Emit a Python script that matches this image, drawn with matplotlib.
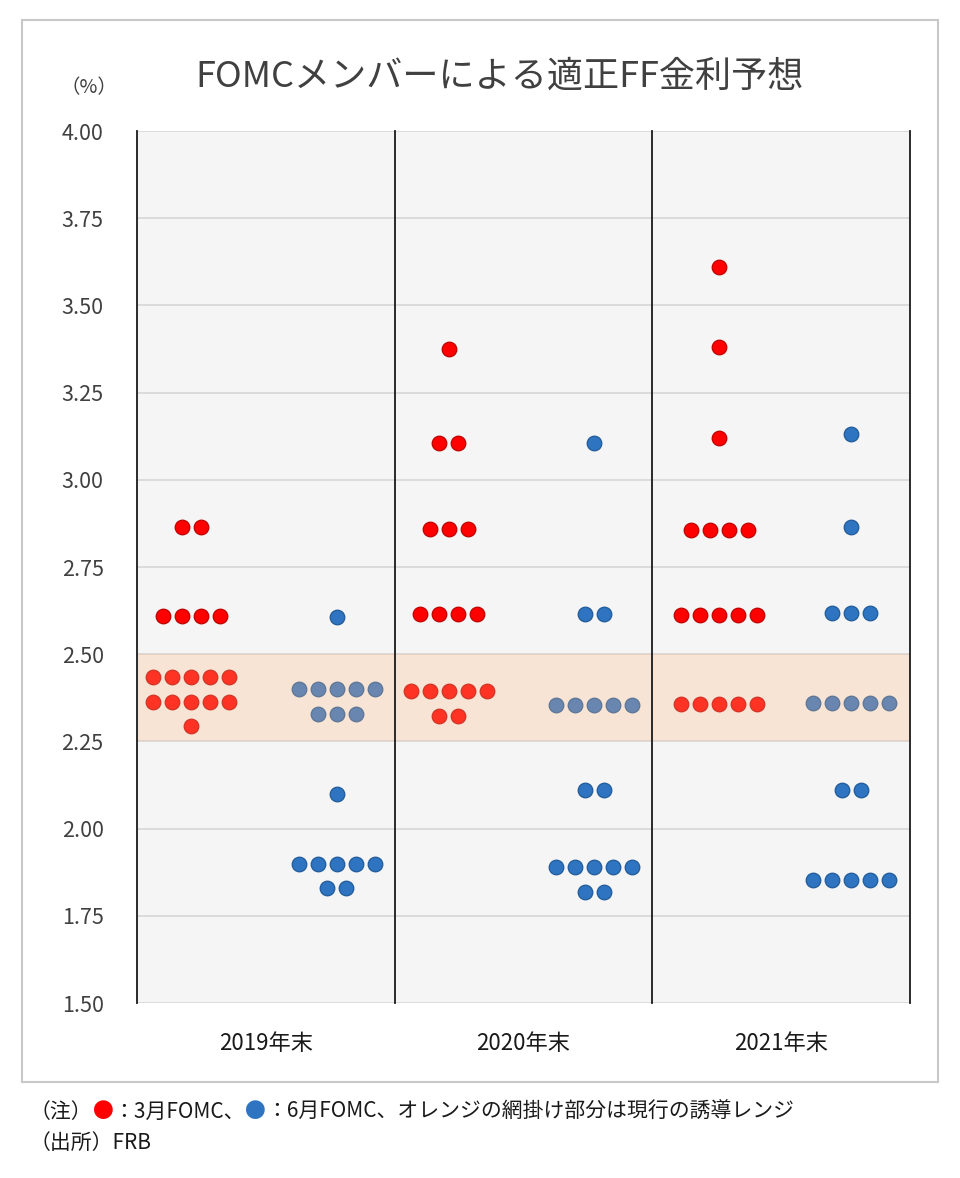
import matplotlib
matplotlib.use("Agg")
import matplotlib.pyplot as plt
from matplotlib.patches import Rectangle
from matplotlib.offsetbox import TextArea, HPacker, AnchoredOffsetbox

JP = ['Noto Sans CJK JP', 'DejaVu Sans']
plt.rcParams['font.family'] = JP

# ---- data ----
categories = ['2019年末', '2020年末', '2021年末']
yticks = [1.50, 1.75, 2.00, 2.25, 2.50, 2.75, 3.00, 3.25, 3.50, 3.75, 4.00]

march_levels = [
    [2.866, 2.610, 2.436, 2.364, 2.294],
    [3.375, 3.105, 2.859, 2.615, 2.395, 2.324],
    [3.611, 3.380, 3.121, 2.856, 2.612, 2.356],
]
march_counts = [
    [2, 4, 5, 5, 1],
    [1, 2, 3, 4, 5, 2],
    [1, 1, 1, 4, 5, 5],
]
june_levels = [
    [2.606, 2.400, 2.329, 2.099, 1.899, 1.831],
    [3.105, 2.615, 2.354, 2.111, 1.891, 1.819],
    [3.131, 2.864, 2.617, 2.360, 2.111, 1.853],
]
june_counts = [
    [1, 5, 3, 1, 5, 2],
    [1, 2, 5, 2, 5, 2],
    [1, 1, 3, 5, 2, 5],
]
band_low, band_high = 2.25, 2.50

# ---- layout ----
W, H = 960, 1178
fig = plt.figure(figsize=(W / 100, H / 100), dpi=100)
ax = fig.add_axes([137 / W, 1 - 1003 / H, (910 - 137) / W, (1003 - 131) / H])
ax.set_facecolor('#F5F5F5')
ax.set_xlim(0, 3)
ax.set_ylim(1.5, 4.0)

march_center = [0.21, 0.21, 0.26]
june_center = [0.775, 0.775, 0.772]
spacing = 0.0737

def draw_dots(levels, counts, centers, face, edge):
    for i in range(len(categories)):
        for lvl, n in zip(levels[i], counts[i]):
            xs = [i + centers[i] + (k - (n - 1) / 2) * spacing for k in range(n)]
            ax.plot(xs, [lvl] * n, linestyle='none', marker='o', markersize=10.5,
                    markerfacecolor=face, markeredgecolor=edge, markeredgewidth=0.9,
                    zorder=3)

draw_dots(march_levels, march_counts, march_center, '#FF0000', '#C00000')
draw_dots(june_levels, june_counts, june_center, '#2E74C0', '#1F5A9A')

# band on top of dots (semi transparent)
ax.axhspan(band_low, band_high, color=(1.0, 0.72, 0.52), alpha=0.28, lw=0, zorder=4)

# grid
for y in yticks:
    ax.axhline(y, color='#D9D9D9', lw=1.3, zorder=1)
# separators
for xv in range(len(categories) + 1):
    ax.plot([xv, xv], [1.5, 4.0], color='#1A1A1A', lw=1.3, zorder=5, clip_on=False)

for s in ax.spines.values():
    s.set_visible(False)

ax.set_yticks(yticks)
ax.set_yticklabels([f'{v:.2f}' for v in yticks], fontsize=15.5, color='#404040')
ax.tick_params(axis='y', length=0, pad=24)
ax.set_xticks([])

for i, c in enumerate(categories):
    ax.text(i + 0.5, 1.5 - 0.115, c, ha='center', va='center', fontsize=16,
            color='#1A1A1A', transform=ax.transData)

# title and unit
fig.text(500 / W, 1 - 77 / H, 'FOMCメンバーによる適正FF金利予想', ha='center', va='center',
         fontsize=26, color='#404040')
fig.text(89 / W, 1 - 88 / H, '（%）', ha='center', va='center', fontsize=14, color='#404040')

# outer frame
fig.patches.append(Rectangle((22 / W, 1 - 1082 / H), (938 - 22) / W, (1082 - 20) / H,
                             transform=fig.transFigure, fill=False,
                             edgecolor='#C8C8C8', lw=1.5))

# footer notes
fs = 15
parts = [('（注）', '#1A1A1A'), ('●', '#FF0000'), ('：3月FOMC、', '#1A1A1A'),
         ('●', '#2E74C0'), ('：6月FOMC、オレンジの網掛け部分は現行の誘導レンジ', '#1A1A1A')]
boxes = [TextArea(t, textprops=dict(color=col, fontsize=fs, family=JP)) for t, col in parts]
line1 = HPacker(children=boxes, align='baseline', pad=0, sep=0)
ab1 = AnchoredOffsetbox(loc='center left', child=line1, pad=0, borderpad=0, frameon=False,
                        bbox_to_anchor=(30 / W, 1 - 1112 / H), bbox_transform=fig.transFigure)
fig.add_artist(ab1)
fig.text(30 / W, 1 - 1143 / H, '（出所）FRB', ha='left', va='center', fontsize=fs, color='#1A1A1A')

fig.savefig('out.png', dpi=100, facecolor='white')
